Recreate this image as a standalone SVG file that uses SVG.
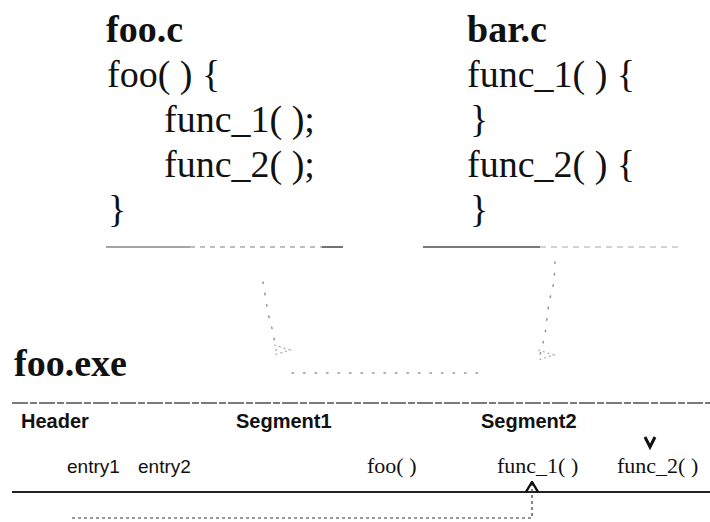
<svg xmlns="http://www.w3.org/2000/svg" width="710" height="522" viewBox="0 0 710 522">
  <style>
    .code { font-family: "Liberation Serif", "Times New Roman", serif; font-size: 38px; fill: #111; }
    .title { font-family: "Liberation Serif", "Times New Roman", serif; font-size: 38px; font-weight: bold; fill: #111; }
    .seg { font-family: "Liberation Sans", Arial, sans-serif; font-size: 20px; font-weight: bold; fill: #111; }
    .entry { font-family: "Liberation Sans", Arial, sans-serif; font-size: 19px; fill: #111; }
    .fn { font-family: "Liberation Serif", "Times New Roman", serif; font-size: 22px; fill: #111; }
    .rule { stroke: #222; fill: none; }
    .faint { stroke: #666; fill: none; stroke-width: 1.5; stroke-dasharray: 1.5 10; stroke-linecap: round; opacity: 0.7; }
    .dash { stroke: #333; fill: none; stroke-width: 1.2; stroke-dasharray: 3 3; }
    .chev { stroke: #111; fill: none; stroke-width: 3; stroke-linejoin: miter; }
  </style>
  <defs>
    <marker id="upChevron" viewBox="0 0 14 12" refX="7" refY="1" markerWidth="14" markerHeight="12" markerUnits="userSpaceOnUse" orient="0">
      <path d="M1,11 L7,1 L13,11" fill="none" stroke="#111" stroke-width="2.4"/>
    </marker>
    <marker id="openHead" viewBox="0 0 20 12" refX="4" refY="6" markerWidth="20" markerHeight="12" markerUnits="userSpaceOnUse" orient="0">
      <path d="M2,1 L18,6 L2,11" fill="none" stroke="#777" stroke-width="1.3" stroke-dasharray="2 3" opacity="0.8"/>
    </marker>
  </defs>

  <!-- source file foo.c -->
  <g id="foo_c">
    <text class="title" x="106" y="42">foo.c</text>
    <text class="code" x="107" y="87">foo( ) {</text>
    <text class="code" x="164" y="132">func_1( );</text>
    <text class="code" x="164" y="177">func_2( );</text>
    <text class="code" x="108" y="222">}</text>
    <line class="rule" x1="106" y1="247" x2="190" y2="247" stroke-width="1.3" opacity="0.55"/>
    <line class="rule" x1="190" y1="247" x2="322" y2="247" stroke-width="1.3" stroke-dasharray="5 5" opacity="0.4"/>
    <line class="rule" x1="322" y1="247" x2="343" y2="247" stroke-width="1.5" opacity="0.85"/>
  </g>

  <!-- source file bar.c -->
  <g id="bar_c">
    <text class="title" x="467" y="42">bar.c</text>
    <text class="code" x="467" y="87">func_1( ) {</text>
    <text class="code" x="470" y="132">}</text>
    <text class="code" x="467" y="177">func_2( ) {</text>
    <text class="code" x="470" y="222">}</text>
    <line class="rule" x1="423" y1="247" x2="540" y2="247" stroke-width="1.5" opacity="0.8"/>
    <line class="rule" x1="540" y1="247" x2="678" y2="247" stroke-width="1.2" stroke-dasharray="6 5" opacity="0.4"/>
  </g>

  <!-- executable image foo.exe -->
  <g id="foo_exe">
    <text class="title" x="14" y="376">foo.exe</text>
    <line class="rule" x1="12" y1="403" x2="710" y2="403" stroke-width="1.4" stroke-dasharray="16 2 7 2" opacity="0.8"/>
    <text class="seg" x="21" y="428">Header</text>
    <text class="seg" x="236" y="428">Segment1</text>
    <text class="seg" x="481" y="428">Segment2</text>
    <text class="entry" x="67" y="473">entry1</text>
    <text class="entry" x="138" y="473">entry2</text>
    <text class="fn" x="367" y="473">foo( )</text>
    <text class="fn" x="497" y="473">func_1( )</text>
    <text class="fn" x="617" y="473">func_2( )</text>
    <line class="rule" x1="12" y1="492" x2="710" y2="492" stroke-width="2"/>
  </g>

  <!-- links between sources and executable -->
  <g id="connectors">
    <path class="faint" d="M263,282 L268,313 L273,332 L276,350" marker-end="url(#openHead)"/>
    <path class="faint" d="M555,262 L554,282 L549,302 L547,318 L545,335 L540,355" marker-end="url(#openHead)"/>
    <path class="faint" d="M292,373 L480,373"/>
    <path class="chev" d="M645,437 L650,447 L655,437"/>
    <path class="dash" d="M72,518 L532,518 L532,482" marker-end="url(#upChevron)"/>
  </g>
</svg>
